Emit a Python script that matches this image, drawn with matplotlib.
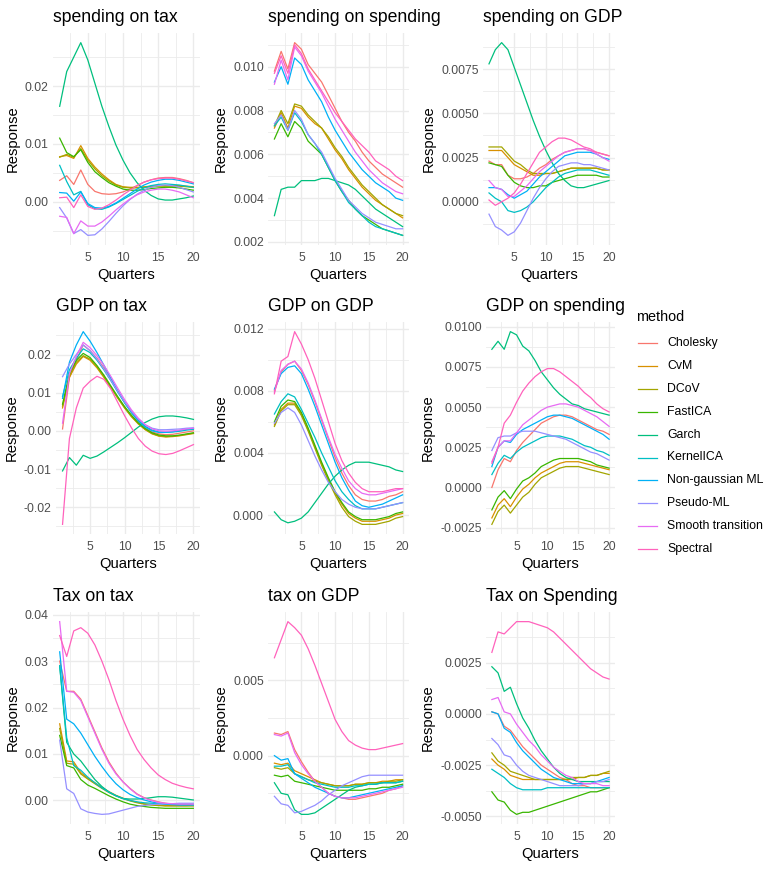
import numpy as np
import matplotlib
matplotlib.use('Agg')
import matplotlib.pyplot as plt
from matplotlib.ticker import FixedLocator, AutoMinorLocator, FormatStrFormatter
from matplotlib.lines import Line2D

plt.rcParams['font.family'] = ['Liberation Sans', 'DejaVu Sans']

quarters = np.arange(1, 21)
methods = ['Cholesky', 'CvM', 'DCoV', 'FastICA', 'Garch', 'KernelICA',
           'Non-gaussian ML', 'Pseudo-ML', 'Smooth transition', 'Spectral']
colors = ['#F8766D', '#D89000', '#A3A500', '#39B600', '#00BF7D', '#00BFC4',
          '#00B0F6', '#9590FF', '#E76BF3', '#FF62BC']

# one row per method, in the order of `methods`
spending_on_tax = [
    [0.0037, 0.0045, 0.0030, 0.0055, 0.0030, 0.0018, 0.0014, 0.0013, 0.0014, 0.0017, 0.0022, 0.0028, 0.0034, 0.0038, 0.0041, 0.0042, 0.0042, 0.0040, 0.0037, 0.0033],
    [0.0078, 0.0080, 0.0075, 0.0097, 0.0075, 0.0060, 0.0048, 0.0038, 0.0030, 0.0026, 0.0025, 0.0025, 0.0026, 0.0027, 0.0028, 0.0028, 0.0028, 0.0028, 0.0027, 0.0026],
    [0.0077, 0.0082, 0.0077, 0.0092, 0.0072, 0.0057, 0.0045, 0.0036, 0.0029, 0.0025, 0.0024, 0.0024, 0.0025, 0.0026, 0.0027, 0.0027, 0.0027, 0.0027, 0.0026, 0.0025],
    [0.0110, 0.0085, 0.0078, 0.0090, 0.0068, 0.0052, 0.0042, 0.0033, 0.0027, 0.0022, 0.0020, 0.0020, 0.0021, 0.0023, 0.0024, 0.0025, 0.0025, 0.0024, 0.0022, 0.0020],
    [0.0165, 0.0225, 0.0250, 0.0275, 0.0245, 0.0205, 0.0165, 0.0130, 0.0098, 0.0072, 0.0050, 0.0033, 0.0020, 0.0011, 0.0005, 0.0003, 0.0003, 0.0005, 0.0007, 0.0010],
    [0.0063, 0.0035, 0.0012, 0.0018, -0.0005, -0.0012, -0.0013, -0.0009, -0.0003, 0.0004, 0.0011, 0.0018, 0.0024, 0.0028, 0.0030, 0.0031, 0.0030, 0.0029, 0.0027, 0.0025],
    [0.0016, 0.0015, 0.0001, 0.0017, -0.0003, -0.0010, -0.0011, -0.0008, -0.0002, 0.0006, 0.0014, 0.0022, 0.0029, 0.0034, 0.0037, 0.0039, 0.0039, 0.0037, 0.0034, 0.0031],
    [-0.0010, -0.0028, -0.0055, -0.0048, -0.0058, -0.0057, -0.0047, -0.0034, -0.0020, -0.0007, 0.0004, 0.0013, 0.0020, 0.0025, 0.0028, 0.0029, 0.0028, 0.0025, 0.0021, 0.0017],
    [-0.0025, -0.0027, -0.0055, -0.0033, -0.0042, -0.0042, -0.0035, -0.0025, -0.0014, -0.0004, 0.0005, 0.0012, 0.0017, 0.0020, 0.0022, 0.0022, 0.0020, 0.0017, 0.0012, 0.0007],
    [0.0007, 0.0008, -0.0010, 0.0012, -0.0008, -0.0013, -0.0011, -0.0005, 0.0003, 0.0012, 0.0020, 0.0028, 0.0034, 0.0038, 0.0040, 0.0041, 0.0041, 0.0039, 0.0036, 0.0033],
]

spending_on_spending = [
    [0.0098, 0.0107, 0.0099, 0.0111, 0.0108, 0.0101, 0.0097, 0.0093, 0.0087, 0.0081, 0.0075, 0.0070, 0.0066, 0.0061, 0.0057, 0.0054, 0.0051, 0.0049, 0.0047, 0.0045],
    [0.0072, 0.0079, 0.0072, 0.0082, 0.0081, 0.0077, 0.0074, 0.0072, 0.0067, 0.0062, 0.0058, 0.0053, 0.0049, 0.0045, 0.0042, 0.0039, 0.0037, 0.0035, 0.0033, 0.0031],
    [0.0073, 0.0080, 0.0074, 0.0083, 0.0082, 0.0078, 0.0075, 0.0072, 0.0068, 0.0063, 0.0059, 0.0054, 0.0050, 0.0046, 0.0043, 0.0040, 0.0037, 0.0035, 0.0033, 0.0032],
    [0.0067, 0.0074, 0.0068, 0.0075, 0.0072, 0.0066, 0.0063, 0.0060, 0.0054, 0.0048, 0.0043, 0.0039, 0.0035, 0.0032, 0.0030, 0.0028, 0.0026, 0.0025, 0.0024, 0.0023],
    [0.0032, 0.0044, 0.0045, 0.0045, 0.0048, 0.0048, 0.0048, 0.0049, 0.0049, 0.0048, 0.0047, 0.0046, 0.0044, 0.0041, 0.0038, 0.0035, 0.0033, 0.0031, 0.0029, 0.0027],
    [0.0073, 0.0077, 0.0071, 0.0079, 0.0075, 0.0069, 0.0065, 0.0060, 0.0054, 0.0048, 0.0043, 0.0038, 0.0035, 0.0032, 0.0029, 0.0027, 0.0026, 0.0025, 0.0024, 0.0023],
    [0.0093, 0.0100, 0.0092, 0.0104, 0.0101, 0.0094, 0.0089, 0.0084, 0.0077, 0.0071, 0.0066, 0.0061, 0.0057, 0.0053, 0.0050, 0.0047, 0.0045, 0.0043, 0.0040, 0.0039],
    [0.0074, 0.0078, 0.0071, 0.0080, 0.0076, 0.0069, 0.0065, 0.0061, 0.0055, 0.0049, 0.0044, 0.0039, 0.0036, 0.0033, 0.0031, 0.0029, 0.0028, 0.0027, 0.0026, 0.0026],
    [0.0092, 0.0103, 0.0094, 0.0109, 0.0105, 0.0098, 0.0093, 0.0088, 0.0082, 0.0076, 0.0071, 0.0066, 0.0061, 0.0057, 0.0053, 0.0050, 0.0047, 0.0045, 0.0043, 0.0042],
    [0.0097, 0.0105, 0.0097, 0.0110, 0.0106, 0.0099, 0.0094, 0.0089, 0.0084, 0.0079, 0.0075, 0.0071, 0.0067, 0.0064, 0.0061, 0.0057, 0.0055, 0.0053, 0.0050, 0.0048],
]

spending_on_gdp = [
    [0.0023, 0.0021, 0.0021, 0.0015, 0.0013, 0.0013, 0.0014, 0.0016, 0.0019, 0.0021, 0.0024, 0.0026, 0.0028, 0.0029, 0.0030, 0.0030, 0.0029, 0.0028, 0.0027, 0.0026],
    [0.0029, 0.0029, 0.0029, 0.0025, 0.0021, 0.0019, 0.0017, 0.0015, 0.0015, 0.0016, 0.0016, 0.0017, 0.0018, 0.0019, 0.0019, 0.0019, 0.0019, 0.0019, 0.0018, 0.0018],
    [0.0031, 0.0031, 0.0031, 0.0027, 0.0023, 0.0021, 0.0018, 0.0016, 0.0016, 0.0016, 0.0016, 0.0017, 0.0018, 0.0019, 0.0019, 0.0019, 0.0019, 0.0019, 0.0018, 0.0018],
    [0.0022, 0.0021, 0.0020, 0.0015, 0.0011, 0.0009, 0.0008, 0.0008, 0.0009, 0.0009, 0.0011, 0.0012, 0.0013, 0.0014, 0.0015, 0.0015, 0.0015, 0.0015, 0.0014, 0.0014],
    [0.0078, 0.0086, 0.0090, 0.0086, 0.0076, 0.0066, 0.0056, 0.0046, 0.0037, 0.0029, 0.0022, 0.0016, 0.0012, 0.0009, 0.0008, 0.0008, 0.0009, 0.0010, 0.0011, 0.0012],
    [0.0005, 0.0002, 0.0000, -0.0005, -0.0006, -0.0005, -0.0003, 0.0000, 0.0004, 0.0008, 0.0011, 0.0014, 0.0016, 0.0017, 0.0018, 0.0018, 0.0018, 0.0017, 0.0016, 0.0015],
    [0.0008, 0.0008, 0.0007, 0.0004, 0.0002, 0.0004, 0.0006, 0.0010, 0.0014, 0.0017, 0.0020, 0.0023, 0.0026, 0.0027, 0.0028, 0.0028, 0.0028, 0.0027, 0.0025, 0.0024],
    [-0.0007, -0.0014, -0.0016, -0.0019, -0.0017, -0.0012, -0.0005, 0.0002, 0.0008, 0.0013, 0.0017, 0.0020, 0.0021, 0.0022, 0.0022, 0.0021, 0.0021, 0.0020, 0.0019, 0.0018],
    [0.0012, 0.0008, 0.0007, 0.0003, 0.0003, 0.0006, 0.0009, 0.0013, 0.0017, 0.0020, 0.0023, 0.0026, 0.0028, 0.0029, 0.0030, 0.0030, 0.0029, 0.0027, 0.0025, 0.0023],
    [0.0001, -0.0002, 0.0000, 0.0002, 0.0005, 0.0010, 0.0016, 0.0022, 0.0028, 0.0031, 0.0034, 0.0036, 0.0036, 0.0035, 0.0033, 0.0031, 0.0030, 0.0028, 0.0027, 0.0026],
]

gdp_on_tax = [
    [0.0005, 0.0140, 0.0185, 0.0225, 0.0210, 0.0190, 0.0165, 0.0135, 0.0105, 0.0075, 0.0048, 0.0025, 0.0008, -0.0003, -0.0008, -0.0010, -0.0009, -0.0006, -0.0003, 0.0000],
    [0.0060, 0.0140, 0.0175, 0.0195, 0.0185, 0.0165, 0.0140, 0.0113, 0.0086, 0.0060, 0.0037, 0.0018, 0.0003, -0.0008, -0.0014, -0.0016, -0.0015, -0.0013, -0.0010, -0.0007],
    [0.0065, 0.0145, 0.0180, 0.0197, 0.0188, 0.0168, 0.0143, 0.0115, 0.0087, 0.0061, 0.0038, 0.0019, 0.0004, -0.0007, -0.0013, -0.0015, -0.0014, -0.0012, -0.0009, -0.0006],
    [0.0070, 0.0150, 0.0185, 0.0203, 0.0192, 0.0171, 0.0146, 0.0118, 0.0090, 0.0064, 0.0041, 0.0021, 0.0006, -0.0005, -0.0011, -0.0013, -0.0013, -0.0011, -0.0008, -0.0005],
    [-0.0105, -0.0070, -0.0090, -0.0064, -0.0072, -0.0066, -0.0055, -0.0043, -0.0031, -0.0018, -0.0004, 0.0010, 0.0022, 0.0031, 0.0037, 0.0039, 0.0039, 0.0037, 0.0034, 0.0030],
    [0.0090, 0.0160, 0.0190, 0.0215, 0.0205, 0.0185, 0.0160, 0.0132, 0.0102, 0.0074, 0.0049, 0.0028, 0.0012, 0.0002, -0.0003, -0.0004, -0.0003, -0.0001, 0.0002, 0.0004],
    [0.0085, 0.0180, 0.0225, 0.0260, 0.0235, 0.0205, 0.0172, 0.0138, 0.0105, 0.0075, 0.0048, 0.0026, 0.0010, 0.0000, -0.0004, -0.0004, -0.0002, 0.0001, 0.0004, 0.0006],
    [0.0142, 0.0175, 0.0200, 0.0225, 0.0210, 0.0188, 0.0162, 0.0133, 0.0104, 0.0076, 0.0051, 0.0031, 0.0016, 0.0007, 0.0003, 0.0003, 0.0004, 0.0005, 0.0007, 0.0008],
    [0.0020, 0.0150, 0.0195, 0.0232, 0.0218, 0.0197, 0.0172, 0.0143, 0.0112, 0.0082, 0.0055, 0.0033, 0.0016, 0.0005, 0.0000, -0.0001, 0.0000, 0.0002, 0.0005, 0.0007],
    [-0.0245, -0.0020, 0.0060, 0.0112, 0.0130, 0.0143, 0.0135, 0.0110, 0.0075, 0.0040, 0.0008, -0.0020, -0.0040, -0.0053, -0.0060, -0.0062, -0.0059, -0.0052, -0.0044, -0.0036],
]

gdp_on_gdp = [
    [0.0080, 0.0092, 0.0097, 0.0099, 0.0093, 0.0084, 0.0073, 0.0061, 0.0049, 0.0037, 0.0027, 0.0019, 0.0013, 0.0010, 0.0009, 0.0009, 0.0010, 0.0012, 0.0013, 0.0015],
    [0.0058, 0.0068, 0.0072, 0.0072, 0.0065, 0.0055, 0.0044, 0.0033, 0.0023, 0.0014, 0.0007, 0.0001, -0.0002, -0.0004, -0.0004, -0.0004, -0.0003, -0.0002, 0.0000, 0.0001],
    [0.0057, 0.0067, 0.0071, 0.0071, 0.0064, 0.0054, 0.0043, 0.0032, 0.0022, 0.0013, 0.0005, -0.0001, -0.0004, -0.0006, -0.0006, -0.0006, -0.0005, -0.0004, -0.0002, -0.0001],
    [0.0060, 0.0070, 0.0074, 0.0073, 0.0066, 0.0056, 0.0045, 0.0034, 0.0024, 0.0015, 0.0008, 0.0002, -0.0001, -0.0003, -0.0003, -0.0003, -0.0002, -0.0001, 0.0001, 0.0002],
    [0.0002, -0.0003, -0.0005, -0.0004, -0.0002, 0.0002, 0.0008, 0.0014, 0.0020, 0.0025, 0.0029, 0.0032, 0.0034, 0.0034, 0.0034, 0.0033, 0.0032, 0.0031, 0.0029, 0.0028],
    [0.0065, 0.0073, 0.0078, 0.0076, 0.0068, 0.0059, 0.0050, 0.0040, 0.0031, 0.0022, 0.0015, 0.0010, 0.0006, 0.0004, 0.0004, 0.0004, 0.0005, 0.0006, 0.0007, 0.0008],
    [0.0081, 0.0091, 0.0095, 0.0096, 0.0091, 0.0081, 0.0070, 0.0058, 0.0046, 0.0034, 0.0024, 0.0016, 0.0009, 0.0006, 0.0005, 0.0006, 0.0007, 0.0009, 0.0011, 0.0013],
    [0.0059, 0.0066, 0.0069, 0.0066, 0.0058, 0.0048, 0.0038, 0.0029, 0.0021, 0.0015, 0.0010, 0.0007, 0.0005, 0.0004, 0.0004, 0.0004, 0.0005, 0.0006, 0.0007, 0.0008],
    [0.0079, 0.0093, 0.0097, 0.0099, 0.0094, 0.0085, 0.0074, 0.0062, 0.0050, 0.0039, 0.0030, 0.0022, 0.0017, 0.0014, 0.0013, 0.0013, 0.0014, 0.0015, 0.0016, 0.0017],
    [0.0078, 0.0099, 0.0102, 0.0118, 0.0110, 0.0100, 0.0088, 0.0074, 0.0060, 0.0046, 0.0035, 0.0027, 0.0021, 0.0017, 0.0015, 0.0015, 0.0015, 0.0016, 0.0017, 0.0017],
]

gdp_on_spending = [
    [0.0000, 0.0011, 0.0018, 0.0016, 0.0023, 0.0028, 0.0032, 0.0036, 0.0040, 0.0042, 0.0044, 0.0045, 0.0045, 0.0044, 0.0042, 0.0040, 0.0038, 0.0036, 0.0035, 0.0033],
    [-0.0019, -0.0011, -0.0007, -0.0012, -0.0006, -0.0001, 0.0002, 0.0006, 0.0009, 0.0011, 0.0013, 0.0015, 0.0016, 0.0016, 0.0016, 0.0015, 0.0014, 0.0013, 0.0012, 0.0011],
    [-0.0023, -0.0015, -0.0011, -0.0016, -0.0011, -0.0006, -0.0003, 0.0002, 0.0006, 0.0008, 0.0010, 0.0012, 0.0013, 0.0013, 0.0013, 0.0012, 0.0011, 0.0010, 0.0009, 0.0008],
    [-0.0014, -0.0006, -0.0002, -0.0007, -0.0001, 0.0004, 0.0006, 0.0009, 0.0013, 0.0015, 0.0017, 0.0018, 0.0018, 0.0018, 0.0018, 0.0017, 0.0016, 0.0014, 0.0013, 0.0012],
    [0.0086, 0.0091, 0.0086, 0.0097, 0.0095, 0.0088, 0.0085, 0.0079, 0.0072, 0.0067, 0.0062, 0.0058, 0.0055, 0.0052, 0.0051, 0.0049, 0.0048, 0.0047, 0.0046, 0.0045],
    [0.0008, 0.0015, 0.0020, 0.0018, 0.0022, 0.0025, 0.0027, 0.0029, 0.0031, 0.0032, 0.0032, 0.0032, 0.0031, 0.0030, 0.0028, 0.0026, 0.0025, 0.0023, 0.0022, 0.0020],
    [0.0013, 0.0025, 0.0029, 0.0028, 0.0033, 0.0036, 0.0038, 0.0040, 0.0042, 0.0044, 0.0045, 0.0045, 0.0044, 0.0043, 0.0041, 0.0039, 0.0037, 0.0035, 0.0033, 0.0030],
    [0.0023, 0.0031, 0.0032, 0.0032, 0.0034, 0.0035, 0.0035, 0.0035, 0.0034, 0.0033, 0.0032, 0.0031, 0.0030, 0.0028, 0.0026, 0.0024, 0.0022, 0.0021, 0.0019, 0.0017],
    [0.0016, 0.0025, 0.0029, 0.0029, 0.0034, 0.0039, 0.0042, 0.0045, 0.0048, 0.0050, 0.0051, 0.0052, 0.0052, 0.0051, 0.0050, 0.0048, 0.0046, 0.0044, 0.0041, 0.0038],
    [0.0015, 0.0025, 0.0040, 0.0045, 0.0053, 0.0060, 0.0065, 0.0069, 0.0072, 0.0074, 0.0074, 0.0072, 0.0069, 0.0066, 0.0063, 0.0059, 0.0056, 0.0052, 0.0049, 0.0047],
]

tax_on_tax = [
    [0.0300, 0.0235, 0.0235, 0.0218, 0.0183, 0.0148, 0.0113, 0.0083, 0.0059, 0.0040, 0.0026, 0.0014, 0.0006, 0.0001, -0.0003, -0.0006, -0.0008, -0.0009, -0.0009, -0.0009],
    [0.0165, 0.0085, 0.0083, 0.0060, 0.0048, 0.0038, 0.0028, 0.0019, 0.0011, 0.0005, 0.0000, -0.0004, -0.0007, -0.0009, -0.0010, -0.0011, -0.0011, -0.0011, -0.0011, -0.0010],
    [0.0155, 0.0080, 0.0078, 0.0057, 0.0046, 0.0036, 0.0026, 0.0017, 0.0010, 0.0004, -0.0001, -0.0005, -0.0008, -0.0010, -0.0011, -0.0012, -0.0012, -0.0012, -0.0012, -0.0012],
    [0.0140, 0.0075, 0.0070, 0.0045, 0.0033, 0.0026, 0.0018, 0.0010, 0.0003, -0.0003, -0.0008, -0.0011, -0.0013, -0.0015, -0.0016, -0.0017, -0.0017, -0.0017, -0.0017, -0.0017],
    [0.0290, 0.0125, 0.0100, 0.0085, 0.0065, 0.0045, 0.0030, 0.0018, 0.0010, 0.0004, 0.0003, 0.0003, 0.0004, 0.0006, 0.0008, 0.0008, 0.0007, 0.0005, 0.0003, 0.0001],
    [0.0290, 0.0135, 0.0075, 0.0065, 0.0050, 0.0038, 0.0027, 0.0018, 0.0010, 0.0004, 0.0000, -0.0003, -0.0005, -0.0006, -0.0007, -0.0008, -0.0008, -0.0008, -0.0008, -0.0008],
    [0.0320, 0.0175, 0.0165, 0.0145, 0.0120, 0.0095, 0.0073, 0.0053, 0.0036, 0.0023, 0.0013, 0.0006, 0.0001, -0.0003, -0.0006, -0.0008, -0.0009, -0.0010, -0.0010, -0.0010],
    [0.0130, 0.0025, 0.0015, -0.0018, -0.0025, -0.0028, -0.0030, -0.0029, -0.0025, -0.0021, -0.0017, -0.0013, -0.0011, -0.0009, -0.0008, -0.0007, -0.0007, -0.0006, -0.0006, -0.0006],
    [0.0385, 0.0235, 0.0233, 0.0215, 0.0180, 0.0145, 0.0110, 0.0080, 0.0057, 0.0040, 0.0025, 0.0013, 0.0005, 0.0000, -0.0004, -0.0006, -0.0007, -0.0008, -0.0008, -0.0008],
    [0.0355, 0.0310, 0.0365, 0.0372, 0.0360, 0.0335, 0.0300, 0.0260, 0.0215, 0.0175, 0.0140, 0.0110, 0.0088, 0.0070, 0.0055, 0.0045, 0.0037, 0.0032, 0.0028, 0.0025],
]

tax_on_gdp = [
    [0.0015, 0.0014, 0.0016, 0.0004, -0.0004, -0.0011, -0.0017, -0.0021, -0.0025, -0.0027, -0.0028, -0.0029, -0.0029, -0.0028, -0.0027, -0.0026, -0.0025, -0.0023, -0.0022, -0.0020],
    [-0.0005, -0.0006, -0.0005, -0.0010, -0.0012, -0.0014, -0.0016, -0.0018, -0.0019, -0.0020, -0.0020, -0.0020, -0.0019, -0.0019, -0.0018, -0.0018, -0.0017, -0.0017, -0.0016, -0.0016],
    [-0.0008, -0.0009, -0.0008, -0.0012, -0.0014, -0.0016, -0.0017, -0.0018, -0.0019, -0.0020, -0.0020, -0.0020, -0.0019, -0.0019, -0.0018, -0.0018, -0.0018, -0.0017, -0.0017, -0.0016],
    [-0.0013, -0.0014, -0.0013, -0.0017, -0.0018, -0.0019, -0.0020, -0.0021, -0.0022, -0.0023, -0.0023, -0.0023, -0.0023, -0.0023, -0.0022, -0.0022, -0.0021, -0.0021, -0.0020, -0.0019],
    [-0.0018, -0.0025, -0.0026, -0.0036, -0.0039, -0.0039, -0.0038, -0.0035, -0.0032, -0.0029, -0.0026, -0.0023, -0.0021, -0.0020, -0.0019, -0.0019, -0.0018, -0.0018, -0.0018, -0.0017],
    [-0.0007, -0.0007, -0.0006, -0.0012, -0.0014, -0.0016, -0.0018, -0.0019, -0.0020, -0.0021, -0.0021, -0.0021, -0.0020, -0.0020, -0.0019, -0.0019, -0.0018, -0.0018, -0.0018, -0.0017],
    [0.0000, -0.0003, -0.0002, -0.0012, -0.0015, -0.0018, -0.0021, -0.0023, -0.0025, -0.0027, -0.0028, -0.0028, -0.0027, -0.0026, -0.0025, -0.0024, -0.0023, -0.0022, -0.0021, -0.0020],
    [-0.0027, -0.0032, -0.0033, -0.0038, -0.0037, -0.0035, -0.0033, -0.0030, -0.0026, -0.0023, -0.0020, -0.0018, -0.0016, -0.0014, -0.0013, -0.0013, -0.0013, -0.0013, -0.0013, -0.0013],
    [0.0014, 0.0013, 0.0015, 0.0002, -0.0006, -0.0012, -0.0017, -0.0021, -0.0025, -0.0027, -0.0028, -0.0028, -0.0028, -0.0027, -0.0026, -0.0025, -0.0024, -0.0023, -0.0022, -0.0021],
    [0.0065, 0.0077, 0.0089, 0.0085, 0.0080, 0.0071, 0.0060, 0.0048, 0.0036, 0.0024, 0.0016, 0.0010, 0.0007, 0.0005, 0.0004, 0.0004, 0.0005, 0.0006, 0.0007, 0.0008],
]

tax_on_spending = [
    [0.0001, 0.0000, -0.0006, -0.0008, -0.0012, -0.0016, -0.0019, -0.0022, -0.0025, -0.0027, -0.0029, -0.0031, -0.0032, -0.0034, -0.0035, -0.0035, -0.0036, -0.0036, -0.0036, -0.0036],
    [-0.0022, -0.0025, -0.0027, -0.0030, -0.0031, -0.0032, -0.0032, -0.0032, -0.0032, -0.0032, -0.0032, -0.0032, -0.0032, -0.0032, -0.0031, -0.0031, -0.0030, -0.0030, -0.0029, -0.0029],
    [-0.0019, -0.0023, -0.0025, -0.0028, -0.0029, -0.0030, -0.0031, -0.0032, -0.0032, -0.0032, -0.0032, -0.0032, -0.0032, -0.0031, -0.0031, -0.0031, -0.0030, -0.0030, -0.0029, -0.0028],
    [-0.0038, -0.0042, -0.0043, -0.0047, -0.0049, -0.0048, -0.0048, -0.0047, -0.0046, -0.0045, -0.0044, -0.0043, -0.0042, -0.0041, -0.0040, -0.0039, -0.0038, -0.0038, -0.0037, -0.0036],
    [0.0023, 0.0020, 0.0011, 0.0013, 0.0005, -0.0002, -0.0007, -0.0013, -0.0018, -0.0022, -0.0026, -0.0029, -0.0031, -0.0032, -0.0033, -0.0033, -0.0033, -0.0033, -0.0033, -0.0033],
    [-0.0027, -0.0029, -0.0031, -0.0034, -0.0036, -0.0037, -0.0037, -0.0037, -0.0037, -0.0036, -0.0036, -0.0036, -0.0036, -0.0036, -0.0036, -0.0036, -0.0036, -0.0036, -0.0036, -0.0036],
    [0.0001, 0.0000, -0.0007, -0.0009, -0.0014, -0.0018, -0.0021, -0.0024, -0.0027, -0.0029, -0.0031, -0.0032, -0.0033, -0.0034, -0.0034, -0.0034, -0.0034, -0.0033, -0.0032, -0.0031],
    [-0.0012, -0.0015, -0.0020, -0.0021, -0.0025, -0.0028, -0.0030, -0.0031, -0.0032, -0.0033, -0.0034, -0.0035, -0.0035, -0.0035, -0.0035, -0.0034, -0.0034, -0.0033, -0.0033, -0.0032],
    [0.0007, 0.0008, 0.0001, 0.0000, -0.0005, -0.0009, -0.0013, -0.0016, -0.0020, -0.0023, -0.0026, -0.0028, -0.0030, -0.0031, -0.0033, -0.0034, -0.0034, -0.0034, -0.0035, -0.0035],
    [0.0030, 0.0040, 0.0039, 0.0042, 0.0045, 0.0045, 0.0045, 0.0044, 0.0043, 0.0042, 0.0040, 0.0037, 0.0034, 0.0031, 0.0028, 0.0025, 0.0022, 0.0020, 0.0018, 0.0017],
]

panel_titles = ['spending on tax', 'spending on spending', 'spending on GDP',
                'GDP on tax', 'GDP on GDP', 'GDP on spending',
                'Tax on tax', 'tax on GDP', 'Tax on Spending']
panel_data = [spending_on_tax, spending_on_spending, spending_on_gdp,
              gdp_on_tax, gdp_on_gdp, gdp_on_spending,
              tax_on_tax, tax_on_gdp, tax_on_spending]
y_ticks = [[0.0, 0.01, 0.02],
           [0.002, 0.004, 0.006, 0.008, 0.010],
           [0.0, 0.0025, 0.005, 0.0075],
           [-0.02, -0.01, 0.0, 0.01, 0.02],
           [0.0, 0.004, 0.008, 0.012],
           [-0.0025, 0.0, 0.0025, 0.005, 0.0075, 0.01],
           [0.0, 0.01, 0.02, 0.03, 0.04],
           [0.0, 0.005],
           [-0.005, -0.0025, 0.0, 0.0025]]
y_fmt = ['%.2f', '%.3f', '%.4f', '%.2f', '%.3f', '%.4f', '%.2f', '%.3f', '%.4f']

# layout in pixels (figure is 778 x 869)
W, H = 778, 869
panel_left = [53, 268, 483, 56, 268, 486, 53, 268, 486]
col_right = [200, 409, 615]
row_top = [33, 322, 612]
panel_h = 212

fig = plt.figure(figsize=(W / 100, H / 100), dpi=100)
grid_col = '#EBEBEB'

for k in range(9):
    r, c = divmod(k, 3)
    left = panel_left[k]
    right = col_right[c]
    top = row_top[r]
    ax = fig.add_axes([left / W, 1 - (top + panel_h) / H,
                       (right - left) / W, panel_h / H])
    data = np.array(panel_data[k])
    for i, name in enumerate(methods):
        ax.plot(quarters, data[i], color=colors[i], lw=0.9, label=name)

    lo, hi = data.min(), data.max()
    pad = 0.05 * (hi - lo)
    ax.set_ylim(lo - pad, hi + pad)
    ax.set_xlim(1 - 0.95, 20 + 0.95)

    ax.xaxis.set_major_locator(FixedLocator([5, 10, 15, 20]))
    ax.xaxis.set_minor_locator(AutoMinorLocator(2))
    ax.yaxis.set_major_locator(FixedLocator(y_ticks[k]))
    ax.yaxis.set_minor_locator(AutoMinorLocator(2))
    ax.yaxis.set_major_formatter(FormatStrFormatter(y_fmt[k]))

    ax.grid(which='major', color=grid_col, lw=1.0)
    ax.grid(which='minor', color=grid_col, lw=0.6)
    ax.set_axisbelow(True)
    for s in ax.spines.values():
        s.set_visible(False)
    ax.tick_params(which='both', length=0)
    ax.tick_params(axis='both', labelsize=8.8, labelcolor='#4D4D4D')
    ax.tick_params(axis='x', pad=5)
    ax.tick_params(axis='y', pad=3)

    ax.set_title(panel_titles[k], loc='left', fontsize=12.7, pad=8)
    ax.set_xlabel('Quarters', fontsize=10.6, labelpad=3)
    ax.set_ylabel('Response', fontsize=10.6, labelpad=4)

# shared legend on the right
fig.text(636 / W, 1 - 317 / H, 'method', fontsize=10.4, va='center', ha='left')
for i, name in enumerate(methods):
    y = 1 - (342.7 + i * 22.96) / H
    fig.add_artist(Line2D([638 / W, 657 / W], [y, y], color=colors[i], lw=0.9))
    fig.text(667 / W, y, name, fontsize=8.8, va='center', ha='left')

fig.savefig('out.png', dpi=100, facecolor='white')
